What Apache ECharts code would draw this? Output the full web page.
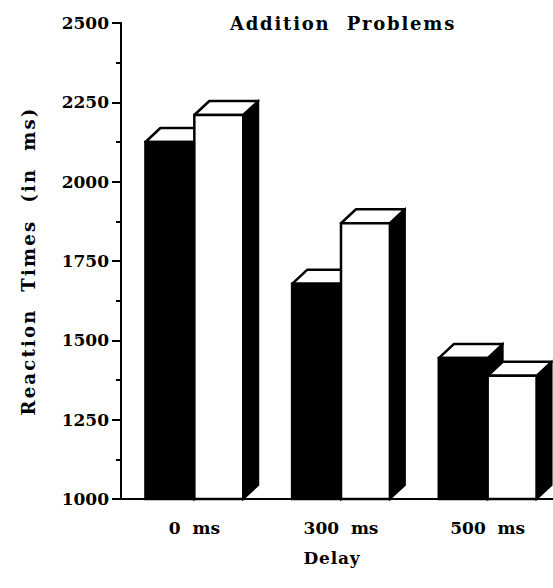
<!DOCTYPE html>
<html>
<head>
<meta charset="utf-8">
<script src="https://cdn.jsdelivr.net/npm/echarts@6/dist/echarts.min.js"></script>
<style>
html,body{margin:0;padding:0;background:#fff;}
#chart{width:553px;height:588px;}
</style>
</head>
<body>
<div id="chart"></div>
<script>
// ---- data ----
const categories = ['0  ms', '300  ms', '500  ms'];
const blackValues = [2125, 1678, 1444];
const whiteValues = [2210, 1869, 1388];
const yMin = 1000, yMax = 2500, yStep = 250;
const titleText = 'Addition  Problems';
const xName = 'Delay';
const yName = 'Reaction  Times  (in  ms)';

const FONT = 'DejaVu Serif';

function makeRender(side, fill) {
  return function (params, api) {
    const idx = api.value(0);
    const top = api.coord([idx, api.value(1)]);
    const base = api.coord([idx, yMin]);
    const band = api.size([1, 0])[0];
    const w = band / 3;
    const x0 = side < 0 ? top[0] - w : top[0];
    const x1 = x0 + w;
    const yT = top[1], yB = base[1];
    const dx = 15, dy = 14;
    return {
      type: 'group',
      children: [
        { type: 'polygon', shape: { points: [[x1, yT], [x1 + dx, yT - dy], [x1 + dx, yB - dy], [x1, yB]] },
          style: { fill: '#000', stroke: '#000', lineWidth: 2 } },
        { type: 'polygon', shape: { points: [[x0, yT], [x0 + dx, yT - dy], [x1 + dx, yT - dy], [x1, yT]] },
          style: { fill: '#fff', stroke: '#000', lineWidth: 2.5, lineJoin: 'round' } },
        { type: 'rect', shape: { x: x0, y: yT, width: w, height: yB - yT },
          style: { fill: fill, stroke: '#000', lineWidth: 2.5 } }
      ]
    };
  };
}

const chart = echarts.init(document.getElementById('chart'), null, { renderer: 'svg' });
chart.setOption({
  backgroundColor: '#fff',
  animation: false,
  title: {
    text: titleText,
    left: 338, top: 9, textAlign: 'center',
    textStyle: { fontFamily: FONT, fontWeight: 'bold', fontSize: 18, color: '#000' }
  },
  grid: { left: 121, width: 440, top: 23, bottom: 89, containLabel: false, outerBoundsMode: 'none' },
  xAxis: {
    type: 'category',
    data: categories,
    name: xName,
    nameLocation: 'middle',
    nameGap: 50,
    nameTextStyle: { fontFamily: FONT, fontWeight: 'bold', fontSize: 17, color: '#000', padding: [0, 18, 0, 0] },
    axisLine: { lineStyle: { color: '#000', width: 2 } },
    axisTick: { alignWithLabel: true, length: 6, lineStyle: { color: '#000', width: 2 } },
    axisLabel: { margin: 20, fontFamily: FONT, fontWeight: 'bold', fontSize: 17, color: '#000' },
    splitLine: { show: false }
  },
  yAxis: {
    type: 'value',
    min: yMin, max: yMax, interval: yStep,
    name: yName,
    nameLocation: 'middle',
    nameGap: 84,
    nameTextStyle: { fontFamily: FONT, fontWeight: 'bold', fontSize: 18, color: '#000', padding: [0, 0, 0, 0] },
    axisLine: { show: true, lineStyle: { color: '#000', width: 2 } },
    axisTick: { show: true, length: 9, lineStyle: { color: '#000', width: 2 } },
    minorTick: { show: true, splitNumber: 2, length: 5, lineStyle: { color: '#000', width: 2 } },
    axisLabel: { margin: 12, fontFamily: FONT, fontWeight: 'bold', fontSize: 17, color: '#000',
      formatter: v => String(v) },
    splitLine: { show: false }
  },
  series: [
    {
      type: 'custom',
      renderItem: makeRender(-1, '#000'),
      encode: { x: 0, y: 1 },
      data: blackValues.map((v, i) => [i, v]),
      z: 2
    },
    {
      type: 'custom',
      renderItem: makeRender(1, '#fff'),
      encode: { x: 0, y: 1 },
      data: whiteValues.map((v, i) => [i, v]),
      z: 3
    }
  ]
});

// widen the spaced-out lettering of the scanned figure
function spaceLetters() {
  const spacing = [[titleText, 1.8], [yName, 2.2], [xName, 0.8]];
  document.querySelectorAll('#chart text').forEach(t => {
    const s = t.textContent;
    spacing.forEach(([txt, ls]) => {
      if (s === txt) { t.setAttribute('letter-spacing', ls); t.style.letterSpacing = ls + 'px'; }
    });
  });
}
chart.on('finished', spaceLetters);
spaceLetters();
setTimeout(spaceLetters, 50);
</script>
</body>
</html>
